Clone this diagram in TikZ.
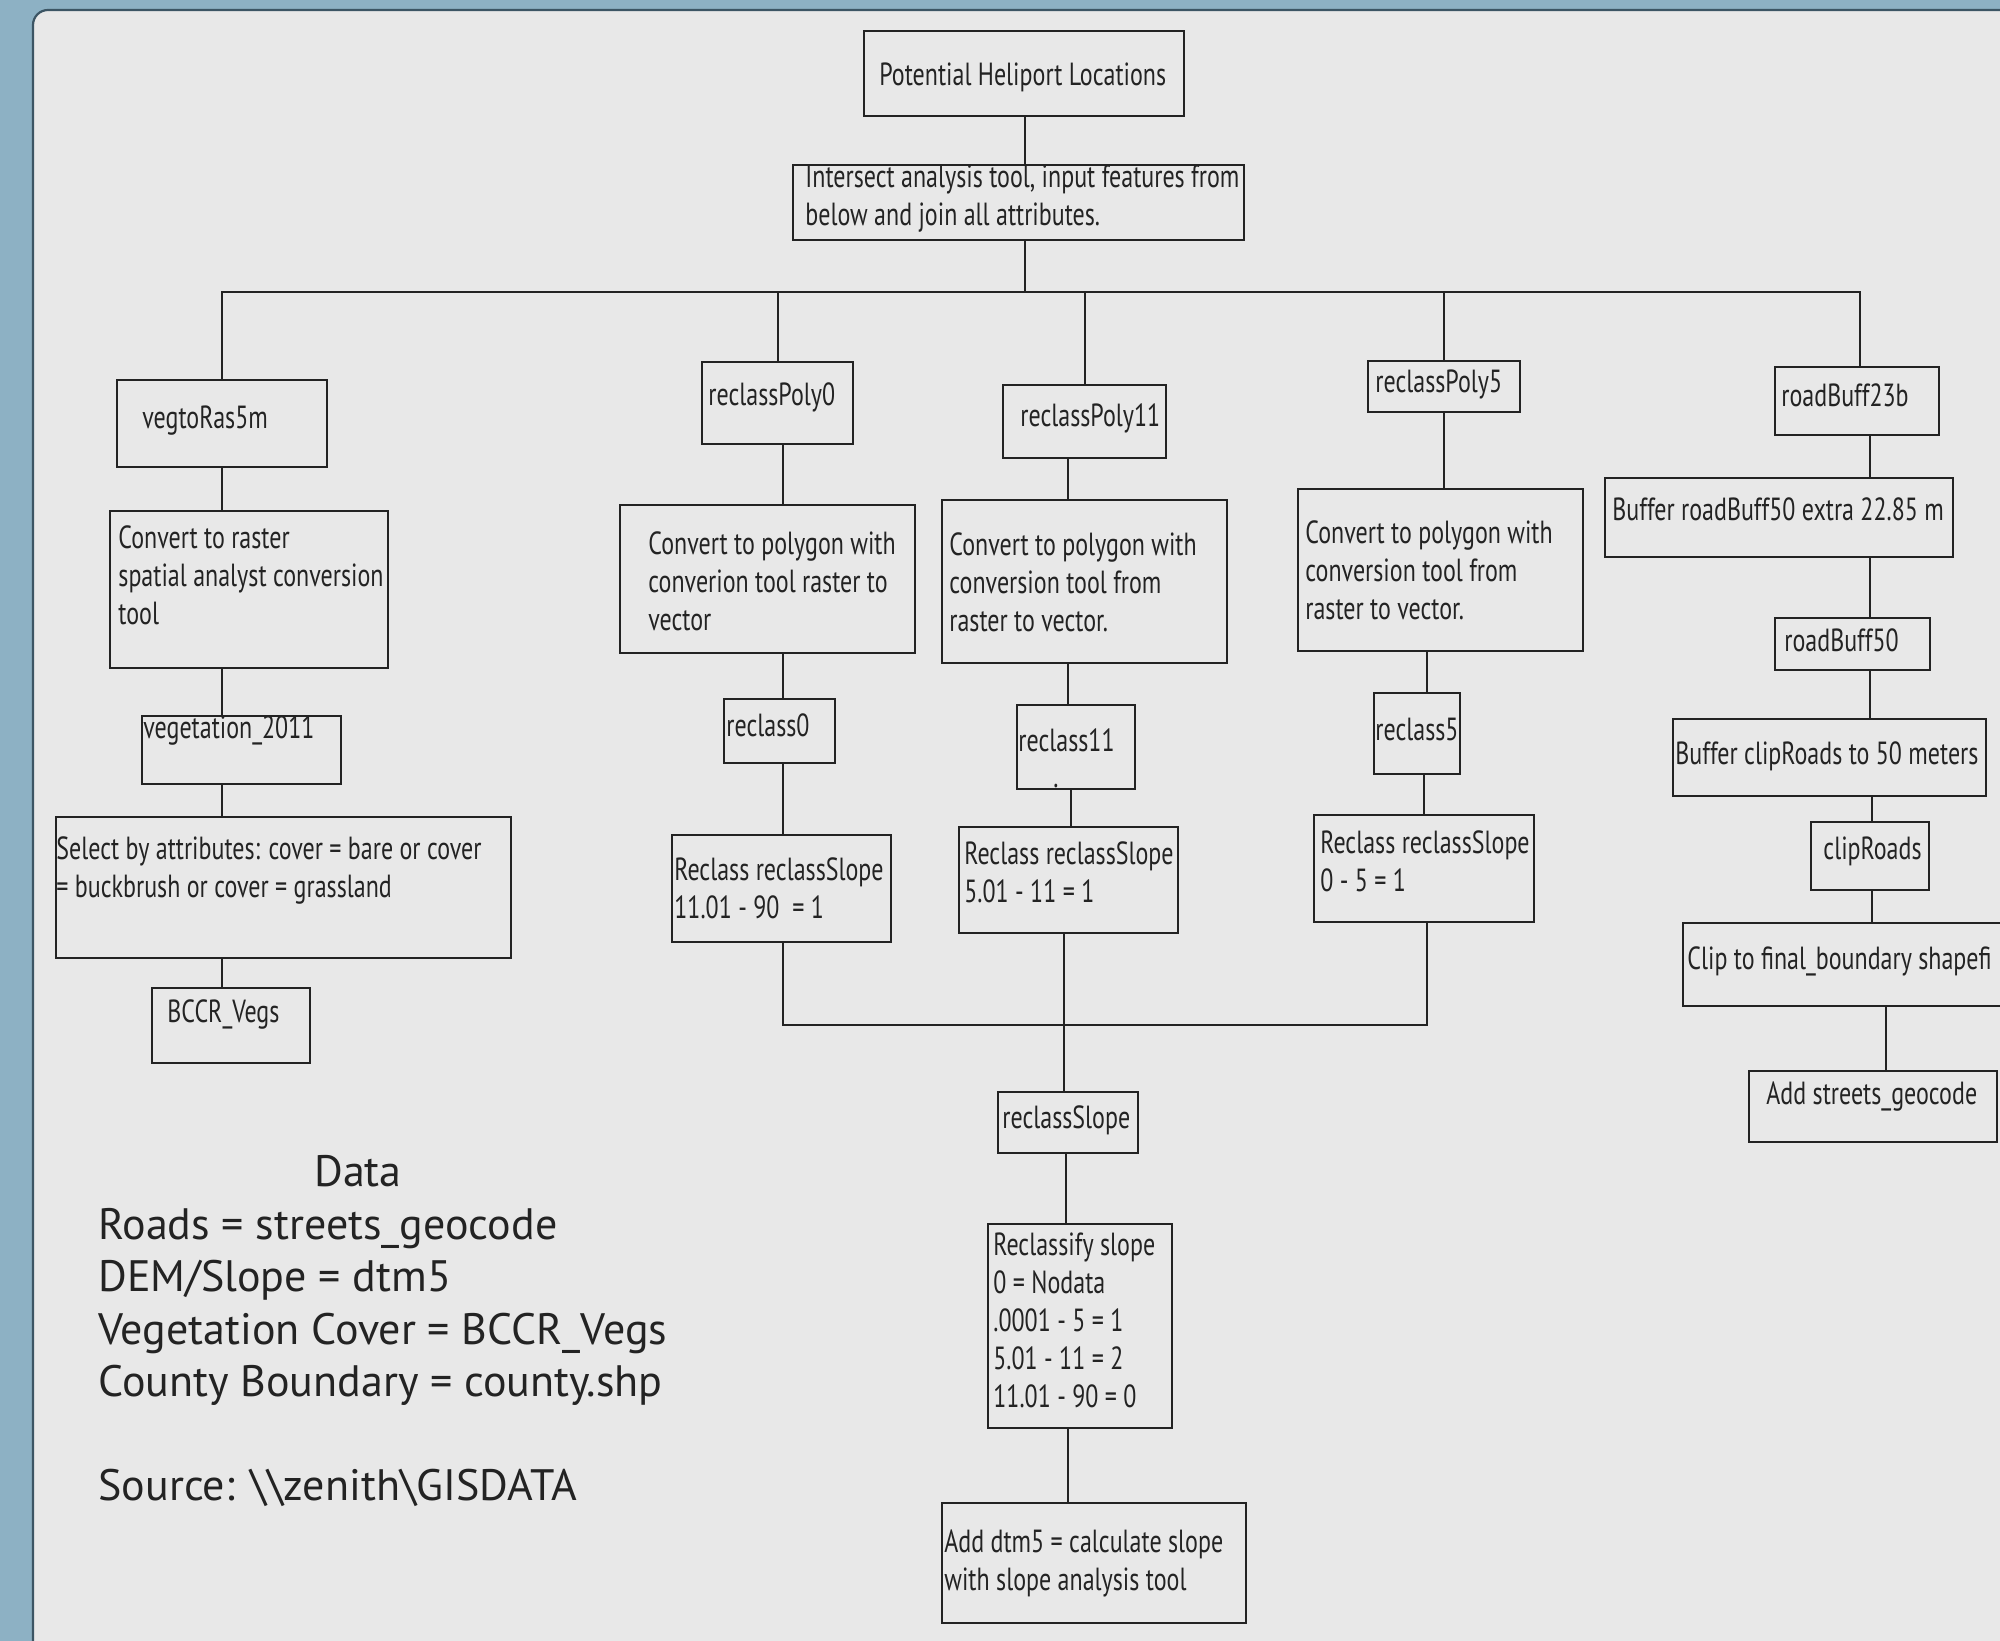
\documentclass[tikz,border=0pt]{standalone}
\usepackage{fontspec}
\setmainfont{PT Sans}
\newfontfamily\boxfont{PT Sans}[FakeStretch=0.75]
\newfontfamily\datafont{PT Sans}
\usetikzlibrary{fit}
\definecolor{outerbg}{RGB}{141,177,196}
\definecolor{panelbg}{RGB}{232,232,232}
\definecolor{paneledge}{RGB}{60,85,100}
\definecolor{ink}{RGB}{35,35,35}
\newcommand\mlines[1]{\vtop{\halign{##\hfil\cr#1\crcr}}}
\tikzset{
  box/.style={draw=ink, line width=1.3pt, inner sep=0pt},
  txt/.style={inner sep=0pt, anchor=base west, text=ink, font=\boxfont\fontsize{16}{19}\selectfont},
  conn/.style={draw=ink, line width=1pt},
  datatxt/.style={inner sep=0pt, anchor=base west, text=ink, font=\datafont\fontsize{22}{26.25}\selectfont}
}
\begin{document}
\begin{tikzpicture}[x=0.5pt,y=-0.5pt]
\useasboundingbox (0,0) rectangle (2000,1641);
\fill[outerbg] (0,0) rectangle (2000,1641);
\fill[panelbg, rounded corners=7.5pt] (33,1660) -- (33,10) -- (2020,10) -- (2020,1660) -- cycle;
\draw[paneledge, line width=1.1pt, rounded corners=7.5pt] (33,1660) -- (33,10) -- (2020,10);

% boxes
\node[box, fit={(864,31)(1184,116)}] (pot) {};
\node[box, fit={(793,165)(1244,240)}] (inter) {};
\node[box, fit={(117,380)(327,467)}] (vegto) {};
\node[box, fit={(702,362)(853,444)}] (poly0) {};
\node[box, fit={(1003,385)(1166,458)}] (poly11) {};
\node[box, fit={(1368,361)(1520,412)}] (poly5) {};
\node[box, fit={(1775,367)(1939,435)}] (rb23) {};
\node[box, fit={(110,511)(388,668)}] (conR) {};
\node[box, fit={(620,505)(915,653)}] (conP0) {};
\node[box, fit={(942,500)(1227,663)}] (conP11) {};
\node[box, fit={(1298,489)(1583,651)}] (conP5) {};
\node[box, fit={(1605,478)(1953,557)}] (bufA) {};
\node[box, fit={(142,716)(341,784)}] (veg) {};
\node[box, fit={(56,817)(511,958)}] (sel) {};
\node[box, fit={(152,988)(310,1063)}] (bccr) {};
\node[box, fit={(724,699)(835,763)}] (rc0) {};
\node[box, fit={(1017,705)(1135,789)}] (rc11) {};
\node[box, fit={(1374,693)(1460,774)}] (rc5) {};
\node[box, fit={(672,835)(891,942)}] (rs0) {};
\node[box, fit={(959,827)(1178,933)}] (rs11) {};
\node[box, fit={(1314,815)(1534,922)}] (rs5) {};
\node[box, fit={(1775,618)(1930,670)}] (rb50) {};
\node[box, fit={(1673,719)(1986,796)}] (bufB) {};
\node[box, fit={(1811,822)(1929,890)}] (clipR) {};
\node[box, fit={(1683,923)(2030,1006)}] (clipB) {};
\node[box, fit={(1749,1071)(1997,1142)}] (adds) {};
\node[box, fit={(998,1092)(1138,1153)}] (rslope) {};
\node[box, fit={(988,1224)(1172,1428)}] (rcls) {};
\node[box, fit={(942,1503)(1246,1623)}] (adtm) {};

% texts
\node[txt] (tpot) at (879,86) {Potential Heliport Locations};
\node[txt] (tinter) at (805,188) {\mlines{Intersect analysis tool, input features from\cr below and join all attributes.}};
\node[txt] (tvegto) at (142,429) {vegtoRas5m};
\node[txt] (tpoly0) at (708,406) {reclassPoly0};
\node[txt] (tpoly11) at (1020,427) {reclassPoly11};
\node[txt] (tpoly5) at (1375,393) {reclassPoly5};
\node[txt] (trb23) at (1781,407) {roadBuff23b};
\node[txt] (tconR) at (118,549) {\mlines{Convert to raster\cr spatial analyst conversion\cr tool}};
\node[txt] (tconP0) at (648,555) {\mlines{Convert to polygon with\cr converion tool raster to\cr vector}};
\node[txt] (tconP11) at (949,556) {\mlines{Convert to polygon with\cr conversion tool from\cr raster to vector.}};
\node[txt] (tconP5) at (1305,544) {\mlines{Convert to polygon with\cr conversion tool from\cr raster to vector.}};
\node[txt] (tbufA) at (1612,521) {Buffer roadBuff50 extra 22.85 m};
\node[txt] (tveg) at (143,738) {vegetation\_2011};
\node[txt] (tsel) at (56,859) {\mlines{Select by attributes: cover = bare or cover\cr = buckbrush or cover = grassland}};
\node[txt] (tbccr) at (167,1022) {BCCR\_Vegs};
\node[txt] (trc0) at (726,736) {reclass0};
\node[txt] (trc11) at (1018,751) {reclass11};
\node[txt] (trc11dot) at (1053,787) {.};
\node[txt] (trc5) at (1375,740) {reclass5};
\node[txt] (trs0) at (674,880) {\mlines{Reclass reclassSlope\cr 11.01 - 90 \ = 1}};
\node[txt] (trs11) at (964,864) {\mlines{Reclass reclassSlope\cr 5.01 - 11 = 1}};
\node[txt] (trs5) at (1320,853) {\mlines{Reclass reclassSlope\cr 0 - 5 = 1}};
\node[txt] (trb50) at (1784,651) {roadBuff50};
\node[txt] (tbufB) at (1675,764) {Buffer clipRoads to 50 meters};
\node[txt] (tclipR) at (1823,859) {clipRoads};
\node[txt] (tclipB) at (1687,969) {Clip to final\_boundary shapefi};
\node[txt] (tadds) at (1766,1104) {Add streets\_geocode};
\node[txt] (trslope) at (1002,1128) {reclassSlope};
\node[txt] (trcls) at (993,1255) {\mlines{Reclassify slope\cr 0 = Nodata\cr .0001 - 5 = 1\cr 5.01 - 11 = 2\cr 11.01 - 90 = 0}};
\node[txt] (tadtm) at (944,1552) {\mlines{Add dtm5 = calculate slope\cr with slope analysis tool}};

% data legend
\node[datatxt, anchor=base] (tdata) at (358,1186) {Data};
\node[datatxt] (tlegend) at (98,1239) {\mlines{Roads = streets\_geocode\cr DEM/Slope = dtm5\cr Vegetation Cover = BCCR\_Vegs\cr County Boundary = county.shp}};
\node[datatxt] (tsource) at (98,1500) {Source: \textbackslash\textbackslash zenith\textbackslash GISDATA};

% connector coordinates
\coordinate (bus) at (0,292);
\coordinate (bus2) at (0,1025);
\coordinate (k0) at (1025,0);
\coordinate (k1) at (222,0);
\coordinate (k2) at (783,0);
\coordinate (k3a) at (1068,0);
\coordinate (k3b) at (1071,0);
\coordinate (k3c) at (1064,0);
\coordinate (k3d) at (1066,0);
\coordinate (k4a) at (1444,0);
\coordinate (k4b) at (1427,0);
\coordinate (k4c) at (1424,0);
\coordinate (k5) at (1860,0);
\coordinate (k5a) at (1870,0);
\coordinate (k5b) at (1872,0);
\coordinate (k5c) at (1886,0);

% top connectors
\draw[conn] (k0 |- pot.south) -- (k0 |- inter.north);
\draw[conn] (k0 |- inter.south) -- (k0 |- bus);
\draw[conn] (vegto.north) -- (vegto.north |- bus) -- (k5 |- bus) -- (k5 |- rb23.north);
\draw[conn] (poly0.north) -- (poly0.north |- bus);
\draw[conn] (poly11.north) -- (poly11.north |- bus);
\draw[conn] (poly5.north) -- (poly5.north |- bus);

% column 1
\draw[conn] (k1 |- vegto.south) -- (k1 |- conR.north);
\draw[conn] (k1 |- conR.south) -- (k1 |- veg.north);
\draw[conn] (k1 |- veg.south) -- (k1 |- sel.north);
\draw[conn] (k1 |- sel.south) -- (k1 |- bccr.north);

% column 2
\draw[conn] (k2 |- poly0.south) -- (k2 |- conP0.north);
\draw[conn] (k2 |- conP0.south) -- (k2 |- rc0.north);
\draw[conn] (k2 |- rc0.south) -- (k2 |- rs0.north);

% column 3
\draw[conn] (k3a |- poly11.south) -- (k3a |- conP11.north);
\draw[conn] (k3a |- conP11.south) -- (k3a |- rc11.north);
\draw[conn] (k3b |- rc11.south) -- (k3b |- rs11.north);
\draw[conn] (k3c |- rs11.south) -- (k3c |- rslope.north);
\draw[conn] (k3d |- rslope.south) -- (k3d |- rcls.north);
\draw[conn] (k3a |- rcls.south) -- (k3a |- adtm.north);

% column 4
\draw[conn] (k4a |- poly5.south) -- (k4a |- conP5.north);
\draw[conn] (k4b |- conP5.south) -- (k4b |- rc5.north);
\draw[conn] (k4c |- rc5.south) -- (k4c |- rs5.north);

% bottom bus
\draw[conn] (k2 |- rs0.south) -- (k2 |- bus2) -- (k4b |- bus2) -- (k4b |- rs5.south);

% column 5
\draw[conn] (k5a |- rb23.south) -- (k5a |- bufA.north);
\draw[conn] (k5a |- bufA.south) -- (k5a |- rb50.north);
\draw[conn] (k5a |- rb50.south) -- (k5a |- bufB.north);
\draw[conn] (k5b |- bufB.south) -- (k5b |- clipR.north);
\draw[conn] (k5b |- clipR.south) -- (k5b |- clipB.north);
\draw[conn] (k5c |- clipB.south) -- (k5c |- adds.north);
\end{tikzpicture}
\end{document}
